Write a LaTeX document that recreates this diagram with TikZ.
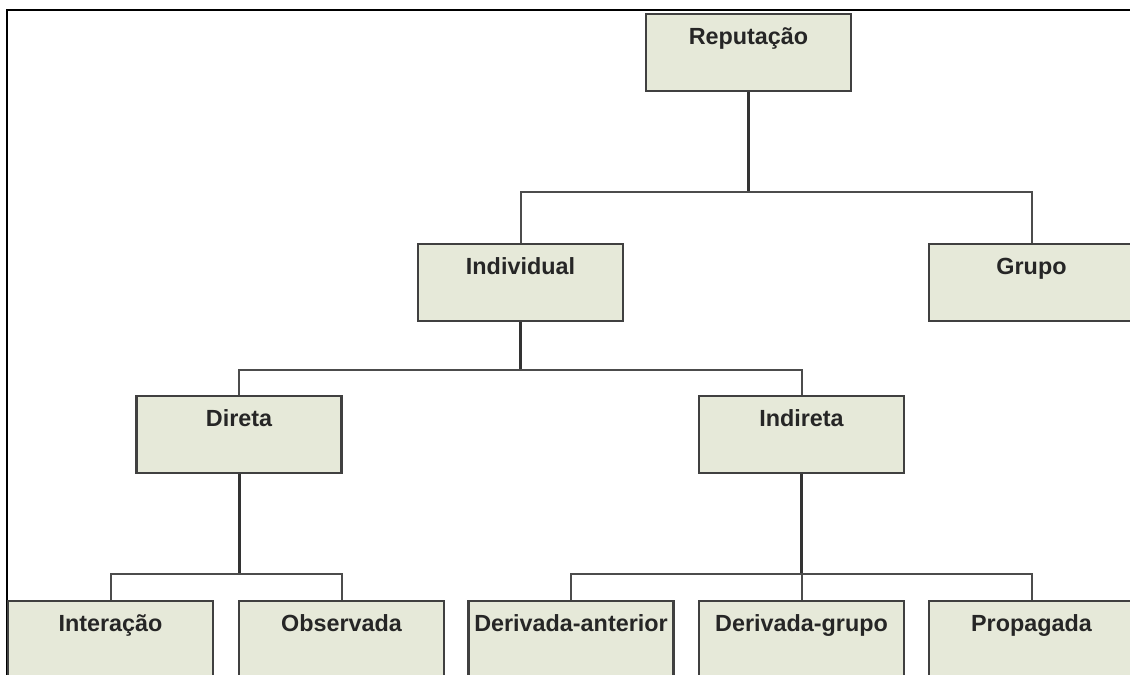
\documentclass[tikz,border=0pt]{standalone}
\usepackage{fontspec}
\setmainfont{Liberation Sans}
\usepackage{xcolor}
\usepackage{tikz}
\definecolor{boxfill}{RGB}{230,233,217}
\definecolor{boxline}{RGB}{64,64,64}

\begin{document}
\begin{tikzpicture}[x=0.02cm,y=-0.02cm,
	caixa/.style={draw=boxline, fill=boxfill, line width=0.045cm, anchor=north, inner sep=0pt, minimum width=4.1cm, text height=0.6cm, text depth=0.94cm, text=black!85, font=\fontsize{13.3}{16}\selectfont\bfseries},
	desce/.style={line width=0.06cm, draw=black!80},
	liga/.style={line width=0.04cm, draw=black!70}]
			\useasboundingbox (0,0) rectangle (1130,675);
			\clip (0,0) rectangle (1130,675);
			\draw[line width=0.05cm] (7,675) -- (7,10) -- (1130,10);
			\node[caixa] (rep) at (748.5,13) {Reputação};
			\node[caixa] (ind) at (520.5,243) {Individual};
			\node[caixa] (grp) at (1031.5,243) {Grupo};
			\node[caixa] (dir) at (239,395) {Direta};
			\node[caixa] (indir) at (801.5,395) {Indireta};
			\node[caixa] (int) at (110.5,600) {Interação};
			\node[caixa] (obs) at (341.5,600) {Observada};
			\node[caixa] (dant) at (571,600) {Derivada-anterior};
			\node[caixa] (dgr) at (801.5,600) {Derivada-grupo};
			\node[caixa] (prop) at (1031.5,600) {Propagada};
			\coordinate (b1) at (748.5,192);
			\coordinate (b2) at (520.5,370);
			\coordinate (b3) at (239,574);
			\coordinate (b4) at (801.5,574);
			\draw[desce] (rep.south) -- (b1);
			\draw[liga] (ind.north) |- (b1) -| (grp.north);
			\draw[desce] (ind.south) -- (b2);
			\draw[liga] (dir.north) |- (b2) -| (indir.north);
			\draw[desce] (dir.south) -- (b3);
			\draw[liga] (int.north) |- (b3) -| (obs.north);
			\draw[desce] (indir.south) -- (b4);
			\draw[liga] (dant.north) |- (b4) -| (prop.north);
			\draw[liga] (b4) -- (dgr.north);
		\end{tikzpicture}
\end{document}
